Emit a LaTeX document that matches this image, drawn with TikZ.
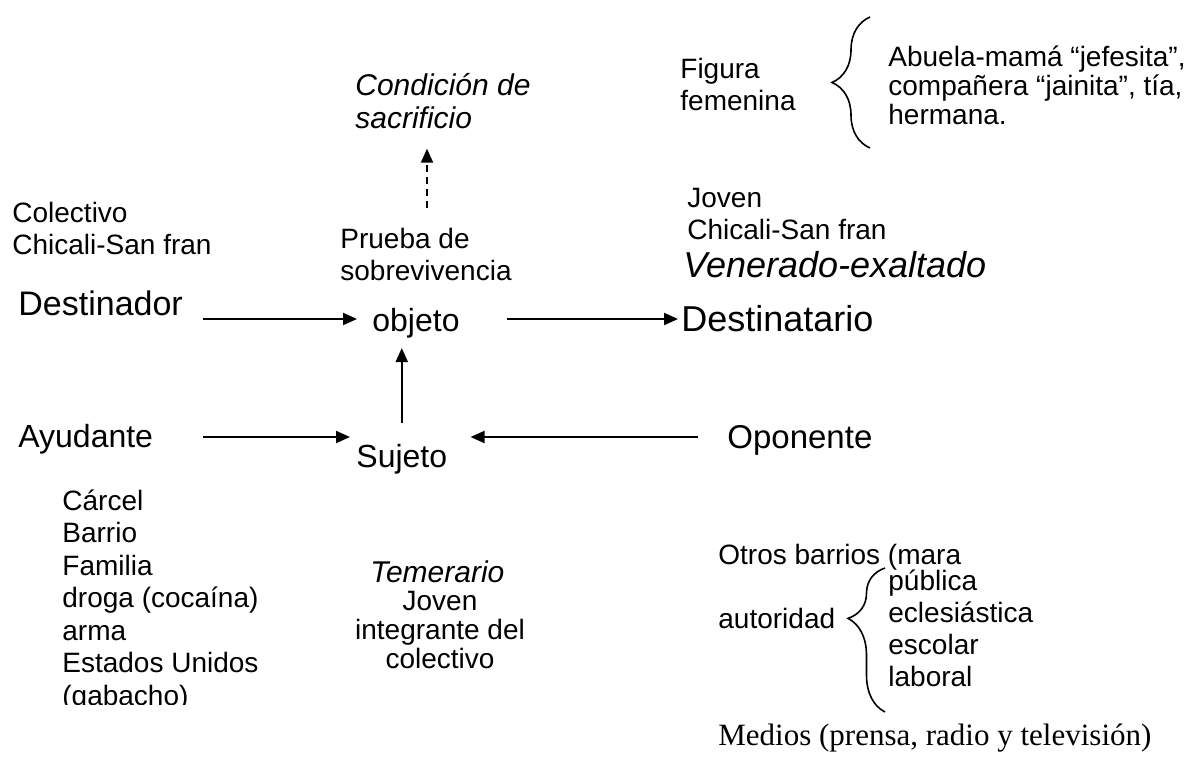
\documentclass[tikz,border=0pt]{standalone}
\usepackage{fontspec}
\setmainfont{Liberation Sans}
\newfontfamily\timesfont{Liberation Serif}
\usetikzlibrary{arrows.meta,positioning,decorations.pathreplacing}

\tikzset{
  txt/.style={anchor=base west, inner sep=0pt, align=left, font=\fontsize{14}{16}\selectfont},
  actant/.style={anchor=base west, inner sep=0pt, font=\fontsize{16.5}{20}\selectfont},
  qual/.style={anchor=base west, inner sep=0pt, align=left, font=\fontsize{15}{16.5}\selectfont\itshape},
  arr/.style={line width=1pt, -{Triangle[length=7pt,width=6pt]}},
  curly/.style={decorate, decoration={brace, amplitude=19pt}, line width=0.8pt}
}

\begin{document}
\begin{tikzpicture}[x=0.5pt, y=-0.5pt]
  \useasboundingbox (0,0) rectangle (1187,764);

  % actantes
  \node[actant, font=\fontsize{17}{20}\selectfont] (dest) at (18,315) {Destinador};
  \node[actant, font=\fontsize{16}{20}\selectfont] (obj) at (372,332) {objeto};
  \node[actant, font=\fontsize{18}{20}\selectfont] (destr) at (681,331) {Destinatario};
  \node[actant, font=\fontsize{16}{20}\selectfont] (ayud) at (18,447) {Ayudante};
  \node[actant, font=\fontsize{16}{20}\selectfont] (suj) at (356,467) {Sujeto};
  \node[actant] (opon)  at (727,448) {Oponente};

  % calificaciones (base = ultima linea)
  \node[qual] (cond) at (355,129) {Condici\'on de\\sacrificio};
  \node[txt] (prueba) at (340,281) {Prueba de\\sobrevivencia};
  \node[txt] (colect) at (12,255) {Colectivo\\Chicali-San fran};
  \node[txt] (jovdes) at (687,240) {Joven\\Chicali-San fran};
  \node[qual, font=\fontsize{18}{20}\selectfont\itshape] (vener) at (683,278) {Venerado-exaltado};
  \node[txt] (fig) at (680,111) {Figura\\femenina};
  \node[txt, font=\fontsize{14}{14.5}\selectfont] (abuela) at (888,125)
    {Abuela-mam\'a “jefesita”,\\compa\~nera “jainita”, t\'ia,\\hermana.};
  \begin{scope}
    \clip (0,0) rectangle (330,704);
    \node[txt, font=\fontsize{14}{16.25}\selectfont] (ayuds) at (62,705)
      {C\'arcel\\Barrio\\Familia\\droga (coca\'ina)\\arma\\Estados Unidos\\(gabacho)};
  \end{scope}
  \node[qual] (temer) at (370,582) {Temerario};
  \node[txt, anchor=base, align=center, font=\fontsize{14}{14.5}\selectfont] (jovsuj) at (440,668)
    {Joven\\integrante del\\colectivo};
  \node[txt] (otros) at (718,564) {Otros barrios (mara};
  \node[txt] (autor) at (718,628) {autoridad};
  \node[txt] (tipos) at (888,686) {p\'ublica\\eclesi\'astica\\escolar\\laboral};
  \node[anchor=base west, inner sep=0pt, font=\timesfont\fontsize{15.5}{18}\selectfont] (medios) at (718,745)
    {Medios (prensa, radio y televisi\'on)};

  % flechas
  \draw[arr] ([shift={(20,4)}]dest.base east) -- ([shift={(-15,-13)}]obj.base west);
  \draw[arr] ([shift={(47,-13)}]obj.base east) -- ([shift={(-3,-12)}]destr.base west);
  \draw[arr] ([shift={(50,-10)}]ayud.base east) -- ([shift={(-6,-30)}]suj.base west);
  \draw[arr] ([shift={(-29,-11)}]opon.base west) -- ([shift={(23,-30)}]suj.base east);
  \draw[arr, shorten <=10pt, shorten >=4.5pt] (suj.north) -- (suj.north |- obj.south);
  \draw[arr, dash pattern=on 3.5pt off 2.5pt] ([shift={(87,-20)}]prueba.north west) -- ([shift={(72,19)}]cond.south west);

  % llaves
  \draw[curly] (870,148) -- (870,17);
  \draw[curly, decoration={aspect=0.65, amplitude=18.5pt}] (885,712) -- (885,568);
\end{tikzpicture}
\end{document}
